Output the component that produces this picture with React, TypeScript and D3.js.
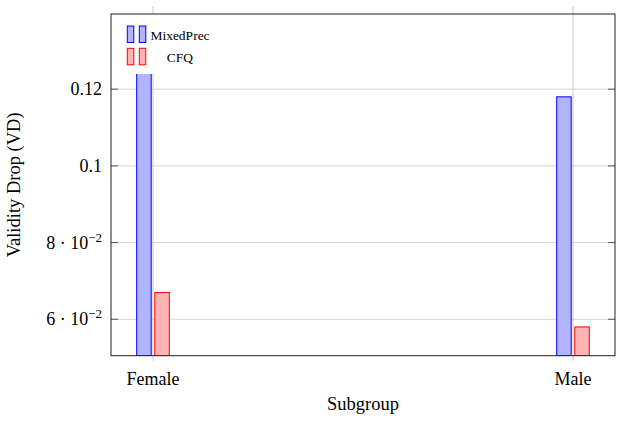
import React, { useEffect, useRef } from 'react';
import * as d3 from 'd3';

const categories = ['Female', 'Male'];
const seriesNames = ['MixedPrec', 'CFQ'];
const mixedPrec = [0.145, 0.118];
const cfq = [0.067, 0.058];
const yTicks = [0.06, 0.08, 0.1, 0.12];
const yTickLabels = [['6 · 10', '−2'], ['8 · 10', '−2'], ['0.1', ''], ['0.12', '']];
const xTitle = 'Subgroup';
const yTitle = 'Validity Drop (VD)';

const colors = [
  { fill: '#b3b3ff', stroke: '#0000ff' },
  { fill: '#ffb3b3', stroke: '#ff0000' },
];

const App = () => {
  const svgRef = useRef<SVGSVGElement>(null);

  useEffect(() => {
    const svg = d3.select(svgRef.current);
    svg.selectAll('*').remove();

    const width = 622;
    const height = 423;
    const left = 111;
    const right = 615;
    const top = 14;
    const bottom = 355.7;
    const font = 'Liberation Serif';

    svg.attr('width', width).attr('height', height);

    const x = d3.scalePoint<string>().domain(categories).range([left, right]).padding(0.1);
    const xSub = d3.scaleBand<string>().domain(seriesNames).range([-16.3, 16.3]).paddingInner(0.2);
    const y = d3.scaleLinear().domain([0.0505, 0.1396]).range([bottom, top]);

    svg.append('defs').append('clipPath').attr('id', 'plotClip')
      .append('rect')
      .attr('x', left).attr('y', top)
      .attr('width', right - left).attr('height', bottom - top);

    // grid
    svg.append('g').selectAll('line')
      .data(yTicks)
      .enter().append('line')
      .attr('x1', left).attr('x2', right)
      .attr('y1', d => y(d)).attr('y2', d => y(d))
      .attr('stroke', '#d4d4d4').attr('stroke-width', 1);

    svg.append('g').selectAll('line')
      .data(categories)
      .enter().append('line')
      .attr('x1', d => x(d)!).attr('x2', d => x(d)!)
      .attr('y1', top - 8).attr('y2', bottom + 5)
      .attr('stroke', '#c8c8c8').attr('stroke-width', 1);

    // bars
    const series = [mixedPrec, cfq];
    const barG = svg.append('g').attr('clip-path', 'url(#plotClip)');
    series.forEach((vals, si) => {
      barG.selectAll(`.bar-${si}`)
        .data(vals)
        .enter().append('rect')
        .attr('x', (d, i) => x(categories[i])! + xSub(seriesNames[si])!)
        .attr('y', d => y(d))
        .attr('width', xSub.bandwidth())
        .attr('height', d => bottom - y(d))
        .attr('fill', colors[si].fill)
        .attr('stroke', colors[si].stroke)
        .attr('stroke-width', 1);
    });

    // legend
    const legend = svg.append('g');
    legend.append('rect')
      .attr('x', 120).attr('y', 14)
      .attr('width', 96).attr('height', 60)
      .attr('fill', '#fff');
    seriesNames.forEach((name, si) => {
      const rowY = 26 + si * 22.3;
      [127.3, 139.3].forEach(mx => {
        legend.append('rect')
          .attr('x', mx).attr('y', rowY)
          .attr('width', 6.5).attr('height', 16.5)
          .attr('fill', colors[si].fill)
          .attr('stroke', colors[si].stroke)
          .attr('stroke-width', 1);
      });
      legend.append('text')
        .attr('x', 180)
        .attr('y', rowY + 14)
        .attr('text-anchor', 'middle')
        .attr('font-family', font)
        .attr('font-size', 13.5)
        .attr('fill', '#000')
        .text(name);
    });

    // y ticks
    svg.append('g').selectAll('line')
      .data(yTicks)
      .enter().append('line')
      .attr('x1', left).attr('x2', left + 7)
      .attr('y1', d => y(d)).attr('y2', d => y(d))
      .attr('stroke', '#555');
    svg.append('g').selectAll('line')
      .data(yTicks)
      .enter().append('line')
      .attr('x1', right - 7).attr('x2', right)
      .attr('y1', d => y(d)).attr('y2', d => y(d))
      .attr('stroke', '#555');

    // frame
    svg.append('rect')
      .attr('x', left).attr('y', top)
      .attr('width', right - left).attr('height', bottom - top)
      .attr('fill', 'none').attr('stroke', '#222').attr('stroke-width', 1);

    // y tick labels
    const yl = svg.append('g').selectAll('text')
      .data(yTicks)
      .enter().append('text')
      .attr('x', 102)
      .attr('y', d => y(d) + 6)
      .attr('text-anchor', 'end')
      .attr('font-family', font)
      .attr('font-size', 18)
      .attr('fill', '#000');
    yl.append('tspan').text((d, i) => yTickLabels[i][0]);
    yl.filter((d, i) => yTickLabels[i][1] !== '')
      .append('tspan')
      .attr('dy', -7)
      .attr('font-size', 13)
      .text((d) => yTickLabels[yTicks.indexOf(d)][1]);

    // x tick labels
    svg.append('g').selectAll('text')
      .data(categories)
      .enter().append('text')
      .attr('x', d => x(d)!)
      .attr('y', 385)
      .attr('text-anchor', 'middle')
      .attr('font-family', font)
      .attr('font-size', 18)
      .attr('fill', '#000')
      .text(d => d);

    // axis titles
    svg.append('text')
      .attr('x', (left + right) / 2)
      .attr('y', 410)
      .attr('text-anchor', 'middle')
      .attr('font-family', font)
      .attr('font-size', 18.5)
      .attr('fill', '#000')
      .text(xTitle);

    svg.append('text')
      .attr('transform', `translate(20, ${(top + bottom) / 2}) rotate(-90)`)
      .attr('text-anchor', 'middle')
      .attr('font-family', font)
      .attr('font-size', 18.5)
      .attr('fill', '#000')
      .text(yTitle);
  }, []);

  return (
    <svg ref={svgRef} style={{ position: 'absolute', left: 0, top: 0, display: 'block' }}></svg>
  );
};

export default App;
